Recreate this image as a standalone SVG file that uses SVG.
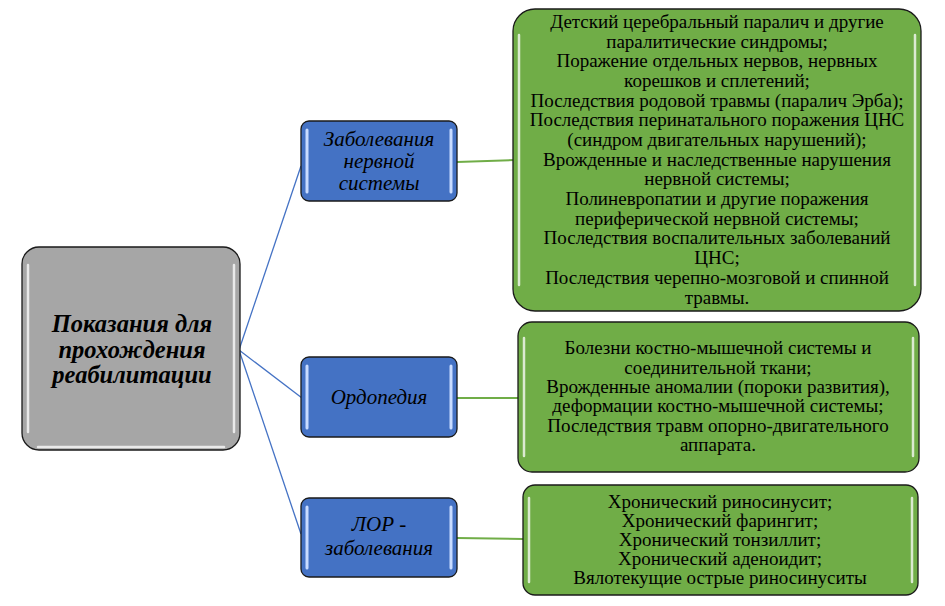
<svg xmlns="http://www.w3.org/2000/svg" width="945" height="606" viewBox="0 0 945 606">
<style>
.box{stroke:#1a1a1a;stroke-width:1.3}
.grey{fill:#a6a6a6}
.blue{fill:#4472c4}
.green{fill:#70ad47}
.hl{stroke:#ffffff;stroke-opacity:0.75;stroke-width:2.5;stroke-linecap:round;fill:none}
.hlb{stroke:#c9dcff;stroke-width:3;stroke-linecap:round;fill:none}
text{font-family:'Times New Roman','Liberation Serif','DejaVu Serif',serif;fill:#000;text-anchor:middle}
.ctext{font-size:24.5px;font-weight:bold;font-style:italic}
.btext{font-size:21px;font-style:italic}
.gtext{font-size:19px}
.cb{stroke:#4472c4;stroke-width:1.3;fill:none}
.cg{stroke:#70ad47;stroke-width:2;fill:none}
</style>
<rect width="945" height="606" fill="#ffffff"/>
<g id="connectors">
<line class="cb" x1="239" y1="350" x2="301" y2="166"/>
<line class="cb" x1="239" y1="350" x2="302" y2="398"/>
<line class="cb" x1="239" y1="350" x2="301" y2="534"/>
<line class="cg" x1="457" y1="162" x2="514" y2="160"/>
<line class="cg" x1="457" y1="398" x2="518" y2="398"/>
<line class="cg" x1="457" y1="538" x2="523" y2="539"/>
</g>
<g id="center">
<rect class="box grey" x="22" y="247" width="218" height="203" rx="17"/>
<line class="hl" x1="28" y1="265" x2="28" y2="432"/>
<line class="hl" x1="234" y1="265" x2="234" y2="432"/>
<line class="hl" x1="38" y1="447" x2="224" y2="447" stroke-opacity="0.5"/>
<text class="ctext" x="132" y="332">Показания для</text>
<text class="ctext" x="132" y="357.5">прохождения</text>
<text class="ctext" x="132" y="383">реабилитации</text>
</g>
<g id="nerv">
<rect class="box blue" x="301" y="121" width="156" height="80" rx="8"/>
<line class="hlb" x1="307" y1="130" x2="307" y2="192"/>
<line class="hlb" x1="451" y1="130" x2="451" y2="192"/>
<text class="btext" x="379" y="146">Заболевания</text>
<text class="btext" x="379" y="168">нервной</text>
<text class="btext" x="379" y="190">системы</text>
</g>
<g id="ortho">
<rect class="box blue" x="301" y="357" width="156" height="80" rx="8"/>
<line class="hlb" x1="307" y1="366" x2="307" y2="428"/>
<line class="hlb" x1="451" y1="366" x2="451" y2="428"/>
<text class="btext" x="379" y="404">Ордопедия</text>
</g>
<g id="lor">
<rect class="box blue" x="301" y="498" width="156" height="79" rx="8"/>
<line class="hlb" x1="307" y1="507" x2="307" y2="568"/>
<line class="hlb" x1="451" y1="507" x2="451" y2="568"/>
<text class="btext" x="379" y="531">ЛОР -</text>
<text class="btext" x="379" y="555">заболевания</text>
</g>
<g id="nerv-list">
<rect class="box green" x="513" y="9" width="408" height="302" rx="22"/>
<line class="hl" x1="519" y1="35" x2="519" y2="285" stroke-opacity="0.5"/>
<line class="hl" x1="915" y1="35" x2="915" y2="285" stroke-opacity="0.5"/>
<text class="gtext" x="717" y="28">Детский церебральный паралич и другие</text>
<text class="gtext" x="717" y="48">паралитические синдромы;</text>
<text class="gtext" x="717" y="67">Поражение отдельных нервов, нервных</text>
<text class="gtext" x="717" y="87">корешков и сплетений;</text>
<text class="gtext" x="717" y="107">Последствия родовой травмы (паралич Эрба);</text>
<text class="gtext" x="717" y="126">Последствия перинатального поражения ЦНС</text>
<text class="gtext" x="717" y="146">(синдром двигательных нарушений);</text>
<text class="gtext" x="717" y="166">Врожденные и наследственные нарушения</text>
<text class="gtext" x="717" y="185">нервной системы;</text>
<text class="gtext" x="717" y="205">Полиневропатии и другие поражения</text>
<text class="gtext" x="717" y="225">периферической нервной системы;</text>
<text class="gtext" x="717" y="244">Последствия воспалительных заболеваний</text>
<text class="gtext" x="717" y="264">ЦНС;</text>
<text class="gtext" x="717" y="284">Последствия черепно-мозговой и спинной</text>
<text class="gtext" x="717" y="304">травмы.</text>
</g>
<g id="ortho-list">
<rect class="box green" x="518" y="322" width="401" height="150" rx="14"/>
<line class="hl" x1="524" y1="338" x2="524" y2="456" stroke-opacity="0.5"/>
<line class="hl" x1="913" y1="338" x2="913" y2="456" stroke-opacity="0.5"/>
<text class="gtext" x="718" y="354">Болезни костно-мышечной системы и</text>
<text class="gtext" x="718" y="374">соединительной ткани;</text>
<text class="gtext" x="718" y="393">Врожденные аномалии (пороки развития),</text>
<text class="gtext" x="718" y="412">деформации костно-мышечной системы;</text>
<text class="gtext" x="718" y="432">Последствия травм опорно-двигательного</text>
<text class="gtext" x="718" y="451">аппарата.</text>
</g>
<g id="lor-list">
<rect class="box green" x="523" y="485" width="395" height="110" rx="12"/>
<line class="hl" x1="529" y1="498" x2="529" y2="582" stroke-opacity="0.5"/>
<line class="hl" x1="912" y1="498" x2="912" y2="582" stroke-opacity="0.5"/>
<text class="gtext" x="720" y="508">Хронический риносинусит;</text>
<text class="gtext" x="720" y="527">Хронический фарингит;</text>
<text class="gtext" x="720" y="546">Хронический тонзиллит;</text>
<text class="gtext" x="720" y="565">Хронический аденоидит;</text>
<text class="gtext" x="720" y="584">Вялотекущие острые риносинуситы</text>
</g>
</svg>
